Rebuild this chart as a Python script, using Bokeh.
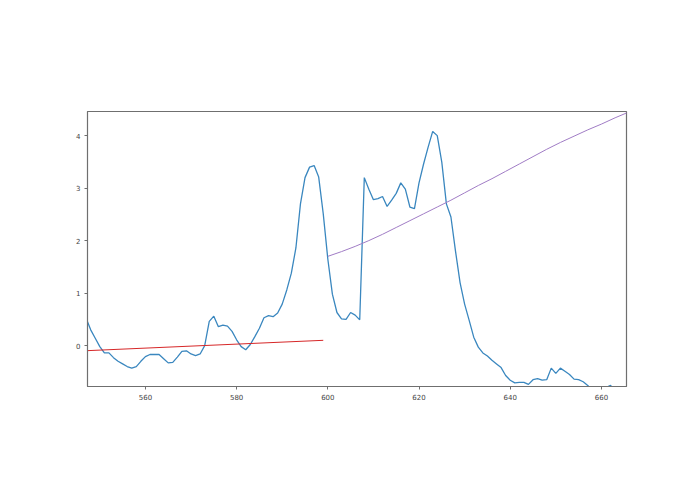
from bokeh.plotting import figure
from bokeh.models import Range1d, FixedTicker
from bokeh.embed import file_html
from bokeh.resources import INLINE

# Blue spectrum (wavelength, value)
spec_x = list(range(547, 667))
spec_y = [0.52, 0.30, 0.14, -0.02, -0.14, -0.14, -0.23, -0.30, -0.35, -0.40,
          -0.43, -0.40, -0.30, -0.21, -0.17, -0.17, -0.17, -0.25, -0.33, -0.32,
          -0.22, -0.11, -0.10, -0.16, -0.19, -0.16, 0.00, 0.46, 0.56, 0.36,
          0.39, 0.37, 0.27, 0.11, -0.02, -0.08, 0.02, 0.17, 0.33, 0.53,
          0.57, 0.55, 0.62, 0.79, 1.06, 1.38, 1.86, 2.70, 3.20, 3.40,
          3.43, 3.21, 2.51, 1.65, 0.98, 0.63, 0.51, 0.50, 0.63, 0.58,
          0.49, 3.20, 2.98, 2.78, 2.80, 2.84, 2.65, 2.77, 2.90, 3.10,
          2.98, 2.64, 2.61, 3.10, 3.46, 3.78, 4.08, 4.00, 3.49, 2.70,
          2.45, 1.80, 1.20, 0.79, 0.48, 0.16, -0.03, -0.14, -0.20, -0.28,
          -0.35, -0.42, -0.57, -0.66, -0.71, -0.70, -0.70, -0.74, -0.65, -0.63,
          -0.66, -0.65, -0.43, -0.53, -0.43, -0.49, -0.55, -0.64, -0.65, -0.69,
          -0.76, -0.85, -0.92, -0.88, -0.80, -0.76, -0.86, -0.95, -1.00, -1.05]

# Red linear baseline
base_x = [547.0, 599.0]
base_y = [-0.098, 0.10]

# Purple curve
curve_x = [600, 603, 606, 609, 612, 615, 618, 621, 624, 627, 630, 633,
           636, 639, 642, 645, 648, 651, 654, 657, 660, 663, 666]
curve_y = [1.70, 1.79, 1.89, 2.00, 2.12, 2.25, 2.38, 2.51, 2.64, 2.77, 2.91, 3.05,
           3.18, 3.32, 3.46, 3.60, 3.74, 3.87, 3.99, 4.11, 4.22, 4.34, 4.45]

x_ticks = [560, 580, 600, 620, 640, 660]
y_ticks = [0, 1, 2, 3, 4]

p = figure(width=679, height=478, output_backend="svg", toolbar_location=None,
           x_range=Range1d(547.3, 665.5), y_range=Range1d(-0.78, 4.46),
           min_border_left=87, min_border_right=53, min_border_top=111,
           min_border_bottom=92)
p.grid.visible = False
p.background_fill_color = "white"
p.border_fill_color = "white"
p.outline_line_color = "#6f6f6f"
p.outline_line_width = 1.2

for ax in (p.xaxis, p.yaxis):
    ax.axis_line_color = "#6f6f6f"
    ax.major_tick_line_color = "#6f6f6f"
    ax.major_tick_out = 3
    ax.major_tick_in = 0
    ax.minor_tick_line_color = None
    ax.major_label_text_font = "DejaVu Sans"
    ax.major_label_text_font_size = "7px"
    ax.major_label_text_color = "#444444"
    ax.major_label_standoff = 4
p.xaxis.ticker = FixedTicker(ticks=x_ticks)
p.yaxis.ticker = FixedTicker(ticks=y_ticks)

p.line(spec_x, spec_y, line_color="#3a87bf", line_width=1.3)
p.line(base_x, base_y, line_color="#d62728", line_width=1)
p.line(curve_x, curve_y, line_color="#a07cc5", line_width=1)

open("out.html", "w").write(file_html(p, INLINE))
